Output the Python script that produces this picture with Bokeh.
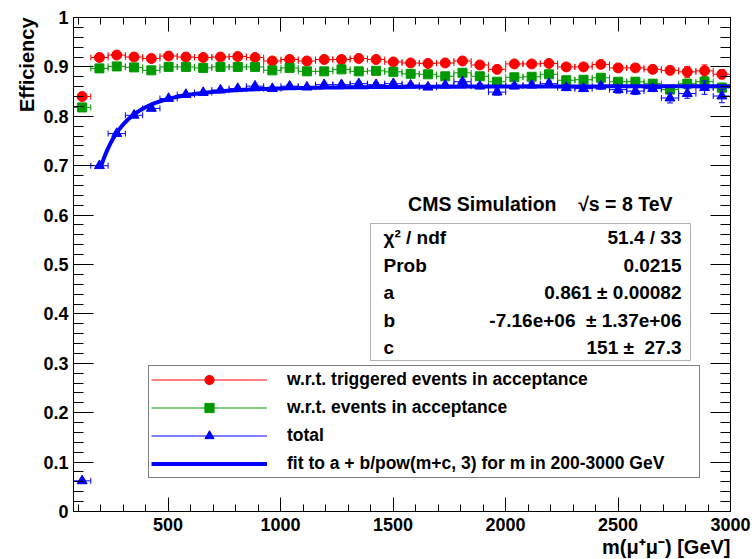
import numpy as np
from bokeh.plotting import figure
from bokeh.models import (ColumnDataSource, SingleIntervalTicker, LinearAxis, Range1d,
                          CustomJSTickFormatter, Legend, LegendItem, BoxAnnotation, Label, Title)
from bokeh.embed import file_html
from bokeh.resources import INLINE

# ---------------- data ----------------
mass = [118.4, 195.3, 272.1, 348.9, 425.8, 502.6, 579.5, 656.3, 733.2, 810.0,
        886.8, 963.7, 1040.5, 1117.4, 1194.2, 1271.1, 1347.9, 1424.7, 1501.6, 1578.4,
        1655.3, 1732.1, 1808.9, 1885.8, 1962.6, 2039.5, 2116.3, 2193.2, 2270.0, 2346.8,
        2423.7, 2500.5, 2577.4, 2654.2, 2731.1, 2807.9, 2884.7, 2961.6]
bin_half_width = 38.4

eff_trig = [0.840, 0.919, 0.924, 0.920, 0.917, 0.922, 0.920, 0.919, 0.920, 0.921,
            0.919, 0.912, 0.915, 0.912, 0.915, 0.915, 0.917, 0.915, 0.910, 0.908,
            0.907, 0.908, 0.912, 0.904, 0.895, 0.906, 0.906, 0.907, 0.900, 0.900,
            0.905, 0.898, 0.898, 0.895, 0.893, 0.890, 0.892, 0.885]
err_trig = [0.004, 0.002, 0.002, 0.002, 0.002, 0.002, 0.002, 0.002, 0.002, 0.002,
            0.002, 0.003, 0.003, 0.003, 0.003, 0.003, 0.003, 0.003, 0.003, 0.003,
            0.003, 0.004, 0.004, 0.004, 0.005, 0.004, 0.004, 0.004, 0.005, 0.005,
            0.005, 0.006, 0.006, 0.006, 0.006, 0.011, 0.012, 0.009]

eff_acc = [0.818, 0.897, 0.901, 0.899, 0.893, 0.900, 0.900, 0.898, 0.900, 0.900,
           0.900, 0.893, 0.898, 0.891, 0.891, 0.895, 0.891, 0.892, 0.890, 0.886,
           0.885, 0.881, 0.888, 0.881, 0.870, 0.879, 0.880, 0.885, 0.873, 0.874,
           0.878, 0.870, 0.870, 0.866, 0.854, 0.866, 0.870, 0.858]
err_acc = [0.004, 0.002, 0.002, 0.002, 0.002, 0.002, 0.002, 0.002, 0.002, 0.003,
           0.003, 0.003, 0.003, 0.003, 0.003, 0.003, 0.003, 0.003, 0.004, 0.004,
           0.004, 0.004, 0.004, 0.004, 0.005, 0.005, 0.005, 0.005, 0.005, 0.006,
           0.006, 0.006, 0.006, 0.007, 0.008, 0.009, 0.010, 0.009]

eff_tot = [0.062, 0.700, 0.765, 0.802, 0.816, 0.836, 0.844, 0.848, 0.853, 0.856,
           0.861, 0.856, 0.861, 0.859, 0.864, 0.864, 0.866, 0.864, 0.866, 0.863,
           0.859, 0.863, 0.870, 0.861, 0.849, 0.861, 0.863, 0.866, 0.858, 0.856,
           0.861, 0.854, 0.851, 0.856, 0.837, 0.846, 0.858, 0.841]
err_tot = [0.003, 0.002, 0.002, 0.002, 0.003, 0.002, 0.002, 0.002, 0.003, 0.003,
           0.003, 0.003, 0.003, 0.003, 0.003, 0.003, 0.003, 0.004, 0.004, 0.004,
           0.004, 0.004, 0.004, 0.005, 0.006, 0.005, 0.005, 0.005, 0.006, 0.006,
           0.006, 0.007, 0.007, 0.006, 0.010, 0.0095, 0.0135, 0.0135]

# fit result shown in the stats box
FIT_A, FIT_B, FIT_C = 0.861, -7.16e6, 151.0
FIT_MIN, FIT_MAX = 200.0, 3000.0

NB = "\u00a0"
stat_names = ["\u03c7\u00b2 / ndf", "Prob", "a", "b", "c"]
stat_values = ["51.4 / 33", "0.0215", "0.861 \u00b1 0.00082",
               "-7.16e+06" + NB + NB + "\u00b1 1.37e+06", "151 \u00b1" + NB + NB + "27.3"]
header_text = "CMS Simulation" + NB * 4 + "\u221as = 8 TeV"

legend_labels = ["w.r.t. triggered events in acceptance", "w.r.t. events in acceptance",
                 "total", "fit to a + b/pow(m+c, 3) for m in 200-3000 GeV"]

# ---------------- layout ----------------
W, H = 755, 559
FL, FR, FT, FB = 73, 730, 17, 511
X0, X1, Y0, Y1 = 80, 3000, 0, 1
FONT = "Liberation Sans"

RED, GREEN, BLUE = "#ff0000", "#009a00", "#0000ff"


def xd(px):
    return X0 + (px - FL) * (X1 - X0) / (FR - FL)


def yd(py):
    return Y0 + (FB - py) * (Y1 - Y0) / (FB - FT)


p = figure(width=W, height=H, x_range=Range1d(X0, X1), y_range=Range1d(Y0, Y1),
           output_backend="svg", toolbar_location=None,
           min_border_left=FL, min_border_right=W - FR, min_border_top=FT, min_border_bottom=H - FB,
           title="Efficiency", title_location="left")
p.background_fill_color = "white"
p.border_fill_color = "white"
p.outline_line_color = "black"
p.grid.visible = False

bottom_ax = p.xaxis[0]
left_ax = p.yaxis[0]

p.title.align = "right"
p.title.text_font = FONT
p.title.text_font_style = "bold"
p.title.text_font_size = "20px"
p.title.text_color = "black"
p.title.standoff = 6

xlab = Title(text="m(\u03bc\u207a\u03bc\u207b) [GeV]", align="right", text_font=FONT,
             text_font_style="bold", text_font_size="20px", text_color="black", standoff=0)
p.add_layout(xlab, "below")

top_ax = LinearAxis()
right_ax = LinearAxis()
p.add_layout(top_ax, "above")
p.add_layout(right_ax, "right")

for ax, interval, maj, mnr in [(bottom_ax, 500, 14, 7), (top_ax, 500, 14, 7),
                               (left_ax, 0.1, 20, 10), (right_ax, 0.1, 20, 10)]:
    ax.ticker = SingleIntervalTicker(interval=interval, num_minor_ticks=5)
    ax.major_tick_in = maj
    ax.major_tick_out = 0
    ax.minor_tick_in = mnr
    ax.minor_tick_out = 0
    ax.axis_line_color = "black"
    ax.major_tick_line_color = "black"
    ax.minor_tick_line_color = "black"
    ax.major_label_text_font = FONT
    ax.major_label_text_font_style = "bold"
    ax.major_label_text_font_size = "18px"
    ax.major_label_text_color = "black"

left_ax.formatter = CustomJSTickFormatter(code="return Number(tick.toFixed(3)).toString();")
left_ax.major_label_standoff = 5
bottom_ax.major_label_standoff = 6
for ax in (top_ax, right_ax):
    ax.formatter = CustomJSTickFormatter(code="return '';")
    ax.major_label_standoff = 0
    ax.major_label_text_font_size = "0px"


def draw_series(eff, err, color, marker, size):
    xlo = [m - bin_half_width for m in mass]
    xhi = [m + bin_half_width for m in mass]
    src = ColumnDataSource(dict(
        x=mass, y=eff, xlo=xlo, xhi=xhi,
        ylo=[e - d for e, d in zip(eff, err)], yhi=[e + d for e, d in zip(eff, err)]))
    # horizontal error bars as one broken polyline (NaN separated)
    hx, hy = [], []
    for a, b, e in zip(xlo, xhi, eff):
        hx += [a, b, np.nan]
        hy += [e, e, np.nan]
    hbar = p.line(np.array(hx), np.array(hy), line_color=color, line_width=1)
    p.segment(x0="x", y0="ylo", x1="x", y1="yhi", source=src, line_color=color, line_width=1)
    for cx in ("xlo", "xhi"):
        p.scatter(x=cx, y="y", marker="dash", angle=np.pi / 2, size=6, line_color=color,
                  line_width=1, source=src)
    for cy in ("ylo", "yhi"):
        p.scatter(x="x", y=cy, marker="dash", size=6, line_color=color, line_width=1, source=src)
    mk = p.scatter(x="x", y="y", marker=marker, size=size, fill_color=color, line_color=color,
                   source=src)
    return hbar, mk


r_h, r_m = draw_series(eff_trig, err_trig, RED, "circle", 10)
g_h, g_m = draw_series(eff_acc, err_acc, GREEN, "square", 9)
b_h, b_m = draw_series(eff_tot, err_tot, BLUE, "triangle", 10)

fit_m = np.linspace(FIT_MIN, FIT_MAX, 500)
fit_eff = FIT_A + FIT_B / (fit_m + FIT_C) ** 3
fit_r = p.line(fit_m, fit_eff, line_color=BLUE, line_width=4)

legend = Legend(items=[LegendItem(label=legend_labels[0], renderers=[r_h, r_m]),
                       LegendItem(label=legend_labels[1], renderers=[g_h, g_m]),
                       LegendItem(label=legend_labels[2], renderers=[b_h, b_m]),
                       LegendItem(label=legend_labels[3], renderers=[fit_r])],
                location=(148 - FL, FB - 478), orientation="vertical", margin=0,
                padding=2, spacing=5, glyph_height=23, glyph_width=116, label_standoff=20,
                label_width=410, label_height=23,
                label_text_font=FONT, label_text_font_style="bold", label_text_font_size="17.5px",
                label_text_color="black",
                border_line_color="black", border_line_width=1,
                background_fill_color="white", background_fill_alpha=1.0)
p.add_layout(legend)

# stats box
p.add_layout(BoxAnnotation(left=xd(370), right=xd(690), top=yd(223), bottom=yd(360),
                           fill_color="white", fill_alpha=1.0, line_color="black", line_width=1))
for i, (nm, vl) in enumerate(zip(stat_names, stat_values)):
    yy = yd(237 + i * 27.6)
    p.add_layout(Label(x=xd(383), y=yy, text=nm, text_font=FONT, text_font_style="bold",
                       text_font_size="19px", text_align="left", text_baseline="middle",
                       text_color="black"))
    p.add_layout(Label(x=xd(681), y=yy, text=vl, text_font=FONT, text_font_style="bold",
                       text_font_size="19px", text_align="right", text_baseline="middle",
                       text_color="black"))

p.add_layout(Label(x=xd(672), y=yd(203), text=header_text, text_font=FONT,
                   text_font_style="bold", text_font_size="19.5px", text_align="right",
                   text_baseline="middle", text_color="black"))

open("out.html", "w").write(file_html(p, INLINE))
